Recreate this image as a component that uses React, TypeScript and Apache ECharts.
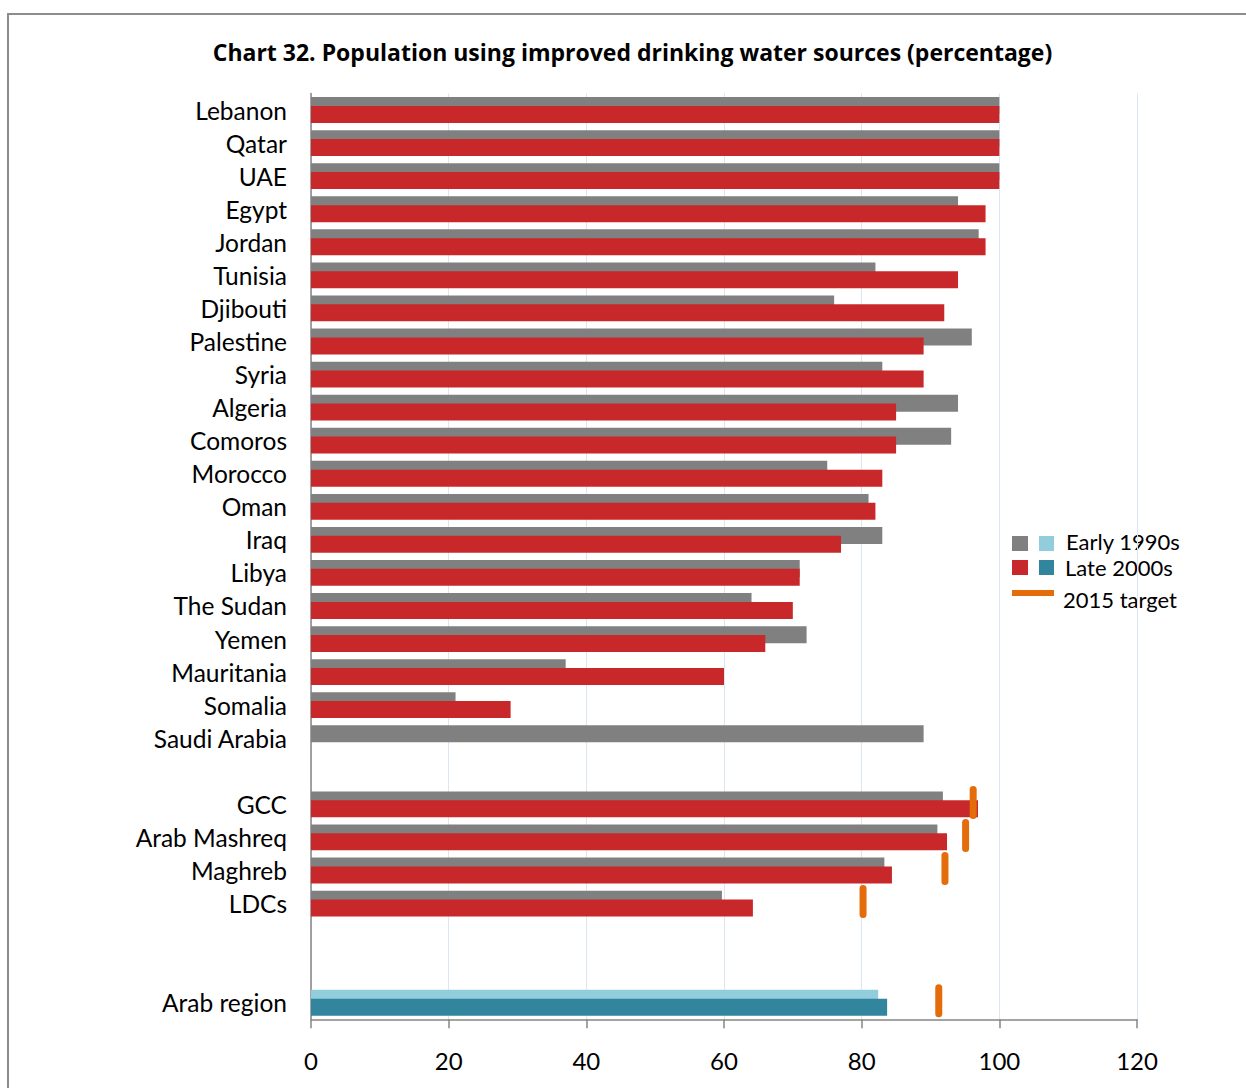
import React, { useEffect, useRef } from "react";
import * as echarts from "echarts";

const categories = [
  "Lebanon", "Qatar", "UAE", "Egypt", "Jordan", "Tunisia", "Djibouti", "Palestine",
  "Syria", "Algeria", "Comoros", "Morocco", "Oman", "Iraq", "Libya", "The Sudan",
  "Yemen", "Mauritania", "Somalia", "Saudi Arabia", " ", "GCC", "Arab Mashreq",
  "Maghreb", "LDCs", "  ", "   ", "Arab region",
];
const early1990s = [
  100, 100, 100, 94, 97, 82, 76, 96, 83, 94, 93, 75, 81, 83, 71, 64, 72, 37, 21, 89,
  null, 91.8, 91, 83.3, 59.7, null, null, 82.4,
];
const late2000s = [
  100, 100, 100, 98, 98, 94, 92, 89, 89, 85, 85, 83, 82, 77, 71, 70, 66, 60, 29, null,
  null, 96.9, 92.4, 84.4, 64.2, null, null, 83.7,
];
const target2015 = [
  null, null, null, null, null, null, null, null, null, null, null, null, null, null,
  null, null, null, null, null, null, null, 96.2, 95.1, 92.1, 80.2, null, null, 91.2,
];
const xTicks = [0, 20, 40, 60, 80, 100, 120];
const regionName = "Arab region";

const FONT = "Lato, 'Open Sans', sans-serif";
const TITLE_FONT = "'Open Sans', Lato, sans-serif";
const GRAY = "#808080";
const RED = "#C8282A";
const LIGHTBLUE = "#92CDDC";
const TEAL = "#31859C";
const ORANGE = "#E46C0A";
const CAPSULE = "path://M0,3.5 A3.5,3.5 0 0 1 7,3.5 L7,29.5 A3.5,3.5 0 0 1 0,29.5 Z";

export default function App() {
  const ref = useRef<HTMLDivElement>(null);
  useEffect(() => {
    if (!ref.current) return;
    const chart = echarts.init(ref.current, null, { renderer: "svg" });
    const earlyData = early1990s.map((v, i) =>
      categories[i] === regionName ? { value: v, itemStyle: { color: LIGHTBLUE } } : v
    );
    const lateData = late2000s.map((v, i) =>
      categories[i] === regionName ? { value: v, itemStyle: { color: TEAL } } : v
    );
    const targetData = target2015
      .map((v, i) => (v == null ? null : [v, i]))
      .filter((d) => d !== null);
    chart.setOption({
      animation: false,
      backgroundColor: "#ffffff",
      textStyle: { fontFamily: FONT },
      grid: { left: 311, right: 109, top: 93.5, bottom: 68.7 },
      xAxis: {
        type: "value",
        min: xTicks[0],
        max: xTicks[xTicks.length - 1],
        interval: 20,
        axisLine: { show: true, lineStyle: { color: "#868686", width: 1.5 } },
        axisTick: { show: true, length: 9, lineStyle: { color: "#868686", width: 1.5 } },
        axisLabel: { fontSize: 24, color: "#000", fontFamily: FONT, margin: 29 },
        splitLine: { show: true, lineStyle: { color: "#DCE6F2", width: 1 } },
      },
      yAxis: {
        type: "category",
        inverse: true,
        data: categories,
        axisLine: { show: true, lineStyle: { color: "#868686", width: 1.5 } },
        axisTick: { show: false },
        axisLabel: {
          fontSize: 24.5,
          color: "#000",
          fontFamily: FONT,
          margin: 24,
          padding: [0, 0, 5, 0],
        },
        splitLine: { show: false },
      },
      series: [
        {
          name: "Early 1990s",
          type: "bar",
          data: earlyData,
          barWidth: 17,
          barGap: "-48%",
          itemStyle: { color: GRAY },
        },
        {
          name: "Late 2000s",
          type: "bar",
          data: lateData,
          barWidth: 17,
          barGap: "-48%",
          itemStyle: { color: RED },
        },
        {
          name: "2015 target",
          type: "scatter",
          data: targetData,
          symbol: CAPSULE,
          symbolSize: [7, 33],
          symbolOffset: [0, -2],
          itemStyle: { color: ORANGE, opacity: 1 },
          z: 5,
        },
      ],
      graphic: [
        {
          type: "rect",
          shape: { x: 8, y: 14, width: 1400, height: 1200 },
          style: { fill: "none", stroke: "#8C8C8C", lineWidth: 2 },
          silent: true,
        },
        {
          type: "text",
          x: 632.5,
          y: 52,
          style: {
            text: "Chart 32. Population using improved drinking water sources (percentage)",
            font: `bold 23px ${TITLE_FONT}`,
            fill: "#000",
            align: "center",
            verticalAlign: "middle",
          },
        },
        { type: "rect", shape: { x: 1012, y: 536, width: 16, height: 15 }, style: { fill: GRAY } },
        { type: "rect", shape: { x: 1039, y: 536, width: 15, height: 15 }, style: { fill: LIGHTBLUE } },
        {
          type: "text", x: 1066, y: 541,
          style: { text: "Early 1990s", font: `22px ${FONT}`, fill: "#000", verticalAlign: "middle" },
        },
        { type: "rect", shape: { x: 1012, y: 560, width: 16, height: 15 }, style: { fill: RED } },
        { type: "rect", shape: { x: 1039, y: 560, width: 15, height: 15 }, style: { fill: TEAL } },
        {
          type: "text", x: 1065, y: 567,
          style: { text: "Late 2000s", font: `22px ${FONT}`, fill: "#000", verticalAlign: "middle" },
        },
        { type: "rect", shape: { x: 1012, y: 590, width: 42, height: 6 }, style: { fill: ORANGE } },
        {
          type: "text", x: 1063, y: 599,
          style: { text: "2015 target", font: `22px ${FONT}`, fill: "#000", verticalAlign: "middle" },
        },
      ],
    });
    return () => chart.dispose();
  }, []);
  return (
    <div
      ref={ref}
      style={{ position: "absolute", left: 0, top: 0, width: 1246, height: 1088 }}
    />
  );
}
